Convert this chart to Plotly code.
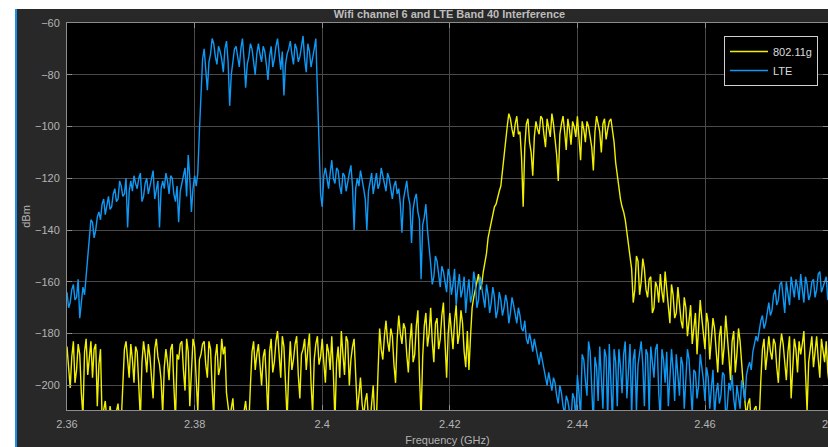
import numpy as np
import plotly.graph_objects as go

# Frequency bins (GHz): 2.360 .. 2.480 in 0.25 MHz steps
freq_start_ghz = 2.36
freq_step_ghz = 0.00025

# 802.11g power spectrum (dBm) at 2.3600, 2.3605, ... GHz
wifi_dbm_even = [
    -185, -201, -183, -194, -188, -212, -182, -190, -197, -184,
    -192, -213, -206, -215, -213, -216, -207, -214, -186, -191,
    -184, -199, -187, -213, -183, -195, -189, -205, -182, -192,
    -211, -186, -198, -184, -214, -190, -183, -202, -187, -195,
    -185, -210, -188, -183, -197, -186, -212, -184, -193, -188,
    -203, -213, -205, -212, -216, -214, -206, -215, -187, -194,
    -184, -200, -186, -212, -182, -191, -179, -197, -185, -213,
    -183, -190, -181, -205, -186, -194, -180, -211, -184, -192,
    -182, -199, -187, -181, -214, -185, -179, -196, -183, -190,
    -182, -210, -197, -212, -203, -215, -200, -213, -178, -190,
    -175, -187, -181, -199, -173, -184, -178, -195, -176, -188,
    -171, -213, -177, -185, -170, -191, -174, -182, -168, -197,
    -172, -186, -169, -180, -176, -193, -194, -170, -163, -157,
    -161, -153, -143, -137, -131, -127, -123, -110, -100, -97,
    -104, -96, -102, -131, -99, -106, -119, -98, -103, -97,
    -108, -100, -95, -105, -121, -99, -102, -97, -107, -100,
    -96, -113, -101, -98, -104, -117, -96, -102, -99, -105,
    -98, -102, -114, -124, -131, -136, -146, -155, -163, -152,
    -160, -155, -166, -158, -170, -162, -157, -168, -163, -176,
    -165, -172, -168, -178, -170, -175, -184, -172, -179, -174,
    -186, -176, -182, -178, -195, -177, -185, -180, -198, -179,
    -188, -183, -200, -212, -205, -214, -208, -213, -186, -194,
    -181, -190, -184, -199, -180, -192, -187, -205, -182, -195,
    -188, -179, -210, -185, -193, -181, -197, -186, -183, -200,
    -189,
]
# 802.11g values at the in-between bins 2.36025, 2.36075, ... GHz
wifi_dbm_odd = [
    -192, -189, -199, -184, -203, -187, -196, -183, -186, -208,
    -186, -209, -214, -208, -217, -210, -215, -199, -183, -197,
    -190, -185, -201, -191, -188, -184, -197, -186, -189, -198,
    -193, -191, -186, -200, -188, -184, -194, -182, -208, -182,
    -196, -190, -184, -192, -183, -201, -189, -196, -182, -185,
    -208, -209, -215, -213, -215, -210, -213, -200, -183, -188,
    -192, -189, -198, -187, -195, -183, -188, -181, -199, -195,
    -194, -184, -196, -188, -182, -186, -199, -190, -181, -189,
    -191, -184, -194, -195, -191, -197, -188, -181, -200, -185,
    -196, -204, -207, -206, -213, -207, -214, -195, -186, -181,
    -183, -178, -192, -182, -180, -176, -188, -183, -191, -177,
    -196, -189, -172, -180, -183, -176, -186, -173, -183, -180,
    -179, -175, -184, -171, -187, -179, -181, -166, -160, -163,
    -156, -149, -140, -134, -130, -125, -117, -104, -95, -101,
    -99, -103, -112, -108, -97, -110, -104, -101, -96, -103,
    -97, -104, -99, -111, -103, -96, -109, -101, -98, -104,
    -103, -98, -106, -100, -108, -102, -99, -110, -97, -101,
    -97, -106, -119, -128, -133, -141, -150, -168, -150, -165,
    -151, -163, -159, -172, -160, -168, -164, -156, -171, -161,
    -174, -162, -175, -166, -181, -169, -177, -188, -167, -180,
    -172, -190, -174, -186, -181, -192, -173, -189, -183, -195,
    -178, -193, -206, -207, -215, -209, -216, -198, -182, -188,
    -187, -182, -193, -186, -184, -198, -181, -190, -186, -183,
    -184, -195, -191, -181, -187, -190, -182, -191, -195, -183,
]

# LTE Band 40 power spectrum (dBm) at 2.3600, 2.3605, ... GHz
lte_dbm_even = [
    -164, -168, -161, -166, -174, -162, -158, -141, -137, -140,
    -133, -130, -134, -127, -131, -124, -128, -123, -126, -139,
    -121, -119, -124, -118, -127, -120, -123, -117, -125, -139,
    -121, -118, -126, -120, -129, -137, -122, -116, -111, -133,
    -119, -118, -84, -70, -86, -72, -68, -76, -71, -79,
    -67, -92, -74, -69, -77, -66, -85, -73, -70, -80,
    -68, -75, -71, -82, -69, -74, -66, -78, -88, -72,
    -67, -76, -70, -73, -65, -79, -71, -74, -66, -110,
    -131, -116, -124, -113, -122, -117, -126, -119, -121, -115,
    -140, -120, -117, -124, -140, -121, -126, -118, -122, -119,
    -125, -120, -128, -121, -124, -141, -124, -127, -145, -128,
    -133, -159, -135, -140, -153, -158, -152, -162, -156, -164,
    -158, -161, -169, -157, -163, -172, -159, -165, -160, -167,
    -163, -170, -165, -168, -166, -171, -167, -170, -168, -172,
    -169, -176, -173, -179, -182, -180, -187, -185, -192, -190,
    -197, -195, -202, -199, -207, -203, -211, -206, -214, -205,
    -196, -212, -190, -204, -187, -215, -193, -185, -209, -189,
    -184, -214, -191, -186, -203, -183, -195, -212, -186, -192,
    -183, -208, -188, -185, -197, -184, -213, -190, -187, -199,
    -194, -188, -204, -192, -198, -190, -211, -195, -200, -193,
    -206, -197, -201, -212, -199, -204, -196, -208, -202, -205,
    -200, -209, -201, -196, -191, -187, -181, -178, -173, -176,
    -168, -171, -163, -167, -160, -172, -164, -158, -166, -162,
    -157, -168, -161, -165, -159, -163, -156, -162, -158, -165,
    -160,
]
# LTE values at the in-between bins 2.36025, 2.36075, ... GHz
lte_dbm_odd = [
    -170, -163, -167, -159, -169, -165, -150, -136, -143, -135,
    -136, -128, -130, -132, -126, -129, -121, -127, -120, -125,
    -125, -122, -120, -129, -122, -126, -119, -128, -121, -124,
    -124, -121, -119, -126, -123, -125, -119, -127, -120, -124,
    -123, -102, -74, -78, -75, -66, -73, -69, -74, -70,
    -75, -80, -70, -73, -70, -74, -76, -68, -75, -72,
    -72, -69, -76, -73, -77, -69, -72, -71, -76, -70,
    -72, -68, -75, -69, -74, -68, -77, -70, -84, -126,
    -119, -121, -118, -120, -116, -123, -118, -125, -118, -123,
    -124, -123, -120, -128, -125, -118, -121, -124, -116, -122,
    -118, -124, -123, -126, -130, -128, -121, -130, -132, -126,
    -136, -138, -130, -146, -161, -150, -157, -154, -160, -155,
    -165, -155, -162, -166, -158, -164, -168, -156, -170, -158,
    -166, -161, -172, -162, -174, -164, -173, -165, -176, -166,
    -173, -170, -178, -175, -184, -183, -182, -189, -187, -194,
    -200, -198, -197, -204, -200, -208, -204, -210, -203, -213,
    -203, -188, -198, -183, -201, -189, -206, -197, -186, -213,
    -199, -186, -208, -193, -188, -205, -184, -190, -210, -187,
    -192, -186, -211, -191, -186, -203, -186, -199, -208, -186,
    -206, -195, -189, -209, -186, -201, -194, -205, -188, -198,
    -193, -209, -194, -203, -207, -195, -213, -199, -196, -210,
    -204, -198, -206, -193, -194, -184, -183, -175, -178, -171,
    -173, -165, -169, -161, -166, -160, -169, -162, -159, -167,
    -163, -158, -167, -160, -166, -157, -164, -160, -167, -157,
]

x_ticks = [2.36, 2.38, 2.40, 2.42, 2.44, 2.46]
x_tick_labels = ["2.36", "2.38", "2.4", "2.42", "2.44", "2.46"]
x_cut_tick = 2.48
x_cut_label = "2.48"
y_ticks = [-200, -180, -160, -140, -120, -100, -80, -60]


def interleave(even, odd):
    out = []
    for i, v in enumerate(even):
        out.append(v)
        if i < len(odd):
            out.append(odd[i])
    return out


wifi_dbm = interleave(wifi_dbm_even, wifi_dbm_odd)
lte_dbm = interleave(lte_dbm_even, lte_dbm_odd)
freq = np.round(freq_start_ghz + freq_step_ghz * np.arange(len(lte_dbm)), 5)

W, H = 828, 447
ML, MR, MT, MB = 67, 0, 23, 37
PW, PH = W - ML - MR, H - MT - MB
px_per_ghz = 127.6 / 0.02
x_range = [2.36, 2.36 + PW / px_per_ghz]
y_range = [-209.5, -60]


def px_to_paper_x(px):
    return (px - ML) / PW


def px_to_paper_y(py):
    return (H - MB - py) / PH


text_col = "#b4b4b4"
font_family = "Liberation Sans, Arial, Helvetica, sans-serif"

fig = go.Figure()
fig.add_trace(go.Scatter(x=freq, y=wifi_dbm, mode="lines", name="802.11g",
                         line=dict(color="#f0f000", width=1.4)))
fig.add_trace(go.Scatter(x=freq, y=lte_dbm, mode="lines", name="LTE",
                         line=dict(color="#0f99f5", width=1.4)))

axis_common = dict(
    showline=True, linecolor="#8c8c8c", linewidth=1, mirror="ticks",
    ticks="inside", ticklen=5, tickcolor="#8c8c8c",
    showgrid=True, gridcolor="#4a4a4a", gridwidth=1,
    zeroline=False,
    tickfont=dict(family=font_family, size=11, color=text_col),
)

fig.update_xaxes(range=x_range, tickvals=x_ticks, ticktext=x_tick_labels,
                 ticklabelstandoff=4,
                 title=dict(text="Frequency (GHz)", standoff=7,
                            font=dict(family=font_family, size=11, color=text_col)),
                 **axis_common)
fig.update_yaxes(range=y_range, tickvals=y_ticks, ticklabelstandoff=4,
                 title=dict(text="dBm", standoff=2,
                            font=dict(family=font_family, size=11, color=text_col)),
                 **axis_common)

x_span = x_range[1] - x_range[0]

fig.update_layout(
    width=W, height=H,
    margin=dict(l=ML, r=MR, t=MT, b=MB, autoexpand=False),
    paper_bgcolor="#282828",
    plot_bgcolor="#000000",
    showlegend=True,
    title=dict(text="<b>Wifi channel 6 and LTE Band 40 Interference</b>",
               x=px_to_paper_x(449.5), xref="paper", xanchor="center",
               y=1 - 14.5 / H, yref="container", yanchor="middle",
               font=dict(family=font_family, size=11, color="#bdbdbd")),
    legend=dict(x=px_to_paper_x(818), y=px_to_paper_y(36),
                xanchor="right", yanchor="top",
                bgcolor="#000000", bordercolor="#d0d0d0", borderwidth=1,
                font=dict(family=font_family, size=11, color="#dcdcdc"),
                itemwidth=38, tracegroupgap=0),
    annotations=[
        dict(text=x_cut_label, xref="paper", yref="paper",
             x=(x_cut_tick - x_range[0]) / x_span, y=px_to_paper_y(424),
             xanchor="center", yanchor="middle", showarrow=False,
             font=dict(family=font_family, size=11, color=text_col)),
    ],
    shapes=[
        dict(type="rect", xref="paper", yref="paper",
             x0=-1, x1=2, y0=px_to_paper_y(9), y1=px_to_paper_y(-20),
             fillcolor="#ffffff", line=dict(width=0)),
        dict(type="rect", xref="paper", yref="paper",
             x0=px_to_paper_x(-20), x1=px_to_paper_x(15.5), y0=px_to_paper_y(470), y1=px_to_paper_y(-20),
             fillcolor="#ffffff", line=dict(width=0)),
        dict(type="line", xref="paper", yref="paper",
             x0=px_to_paper_x(16), x1=px_to_paper_x(16), y0=px_to_paper_y(470), y1=px_to_paper_y(9),
             line=dict(color="#1e8fe6", width=2)),
    ],
)

fig.write_html("out.html")
